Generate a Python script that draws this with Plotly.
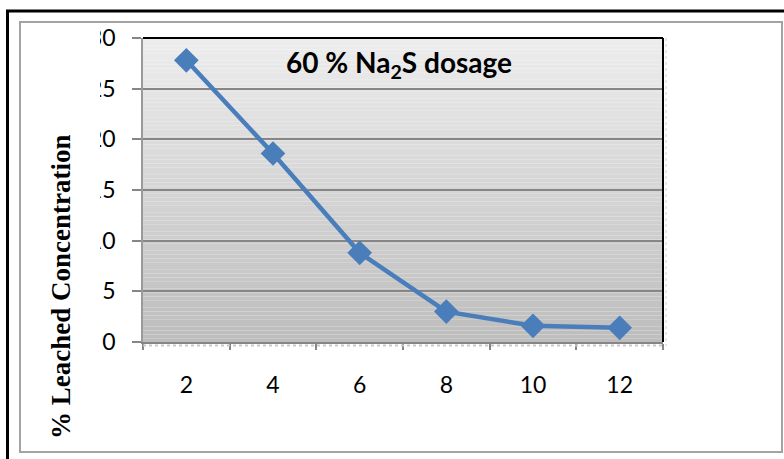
import plotly.graph_objects as go

# Leaching time (categories) and leached concentration (%)
time_hours = [2, 4, 6, 8, 10, 12]
leached_pct = [27.8, 18.6, 8.8, 3.0, 1.6, 1.4]
y_ticks = [0, 5, 10, 15, 20, 25, 30]

W, H = 784, 459
L, R, T, B = 143, 663, 38, 342          # plot area in pixels


def px(x):
    return (x - L) / (R - L)


def py(y):
    return (B - y) / (B - T)


fig = go.Figure()
fig.add_trace(go.Scatter(
    x=[str(v) for v in time_hours], y=leached_pct,
    mode="lines+markers",
    line=dict(color="#4a7ebb", width=4.5),
    marker=dict(symbol="diamond", size=19, color="#4a7ebb"),
    showlegend=False,
))

shapes = []
# vertical grey gradient behind the plot area
N = 80
top_c, bot_c = (237, 237, 237), (189, 189, 189)
for i in range(N):
    t = (i + 0.5) / N
    c = tuple(round(top_c[k] + (bot_c[k] - top_c[k]) * t) for k in range(3))
    shapes.append(dict(type="rect", xref="x domain", yref="y domain",
                       x0=0, x1=1, y0=1 - (i + 1) / N, y1=1 - i / N,
                       fillcolor="rgb(%d,%d,%d)" % c, line=dict(width=0),
                       layer="below"))
# black frame on top and right of the plot area
shapes.append(dict(type="line", xref="x domain", yref="y domain",
                   x0=0, x1=1, y0=1, y1=1, line=dict(color="black", width=2)))
shapes.append(dict(type="line", xref="x domain", yref="y domain",
                   x0=1, x1=1, y0=0, y1=1, line=dict(color="black", width=2)))
# faint dotted edges outside the plot area
shapes.append(dict(type="line", xref="paper", yref="paper",
                   x0=px(143), x1=px(664), y0=py(345.5), y1=py(345.5),
                   line=dict(color="#c8c8c8", width=2, dash="dot")))
shapes.append(dict(type="line", xref="paper", yref="paper",
                   x0=px(666), x1=px(666), y0=py(38), y1=py(346),
                   line=dict(color="#d0d0d0", width=1, dash="dot")))
# label clipping strip on the left of the value axis
shapes.append(dict(type="rect", xref="paper", yref="paper",
                   x0=px(80), x1=px(100), y0=py(355), y1=py(25),
                   fillcolor="white", line=dict(width=0), layer="above"))
# chart frame (grey) and outer black border
shapes.append(dict(type="rect", xref="paper", yref="paper",
                   x0=px(20), x1=px(782), y0=py(452), y1=py(22),
                   line=dict(color="#a3a3a3", width=2)))
shapes.append(dict(type="line", xref="paper", yref="paper",
                   x0=px(7.5), x1=px(7.5), y0=py(462), y1=py(10),
                   line=dict(color="black", width=3)))
shapes.append(dict(type="line", xref="paper", yref="paper",
                   x0=px(6), x1=px(790), y0=py(11), y1=py(11),
                   line=dict(color="black", width=3)))

fig.update_layout(
    width=W, height=H,
    margin=dict(l=L, r=W - R, t=T, b=H - B),
    paper_bgcolor="white", plot_bgcolor="rgba(0,0,0,0)",
    shapes=shapes,
    xaxis=dict(type="category", tickson="boundaries", showgrid=False,
               ticks="outside", ticklen=6, tickcolor="#868686", tickwidth=1.5,
               showline=True, linecolor="#868686", linewidth=2,
               tickfont=dict(family="Lato", size=23, color="black"),
               ticklabelstandoff=21, range=[-0.5, 5.5]),
    yaxis=dict(range=[0, 30], tickvals=y_ticks, showgrid=True,
               gridcolor="#868686", gridwidth=1.8, zeroline=False,
               ticks="outside", ticklen=9, tickcolor="#868686", tickwidth=1.5,
               showline=True, linecolor="#9a9a9a", linewidth=1.5,
               tickfont=dict(family="Lato", size=23, color="black"),
               ticklabelstandoff=12),
    annotations=[
        dict(text="<b>60 % Na<sub>2</sub>S dosage</b>", xref="paper", yref="paper",
             x=px(399), y=py(64), xanchor="center", yanchor="middle",
             showarrow=False,
             font=dict(family="Lato", size=28, color="black")),
        dict(text="<b>% Leached Concentration</b>", xref="paper", yref="paper",
             x=px(61), y=py(287), xanchor="center", yanchor="middle",
             textangle=-90, showarrow=False,
             font=dict(family="Liberation Serif", size=27, color="black")),
    ],
)

fig.write_html("out.html")
